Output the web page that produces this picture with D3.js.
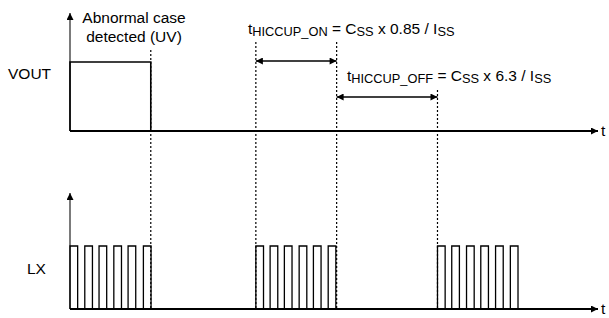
<!DOCTYPE html>
<html>
<head>
<meta charset="utf-8">
<script src="https://cdn.jsdelivr.net/npm/d3@7"></script>
<style>
  body { margin: 0; background: #fff; }
  text { font-family: "Liberation Sans", Arial, sans-serif; fill: #000; }
</style>
</head>
<body>
<div class="vis-timing"></div>
<script>
// time in arbitrary units, 0 = start of plot
const timeDomain = [0, 100];
const voutHigh = [0, 15.3];               // VOUT high until abnormal case detected
const lxRise = [
  0, 2.8, 5.5, 8.3, 11.0, 13.9,
  35.2, 37.9, 40.6, 43.4, 46.1, 48.9,
  69.6, 72.3, 75.1, 77.8, 80.6, 83.4
];
const lxPulseWidth = 1.45;
const markers = [15.3, 35.2, 50.5, 69.6];
const hiccupOn = [35.2, 50.5];
const hiccupOff = [50.5, 69.6];
const signalNames = ["VOUT", "LX"];

const draw = () => {
  const width = 609, height = 318;
  const svg = d3.select(".vis-timing")
    .append("svg")
    .attr("width", width)
    .attr("height", height);

  const defs = svg.append("defs");
  defs.append("marker")
    .attr("id", "arr")
    .attr("viewBox", "0 0 10 10")
    .attr("refX", 10).attr("refY", 5)
    .attr("markerUnits", "userSpaceOnUse")
    .attr("markerWidth", 9).attr("markerHeight", 7)
    .attr("orient", "auto-start-reverse")
    .append("path").attr("d", "M0,0L10,5L0,10z").attr("fill", "#000");

  const x = d3.scaleLinear().domain(timeDomain).range([70, 598]);
  const yV = d3.scaleLinear().domain([0, 1]).range([131, 62]);
  const yL = d3.scaleLinear().domain([0, 1]).range([309, 246]);

  // dotted event markers
  const markerTop = [50, 42, 42, 90];
  svg.selectAll(".marker")
    .data(markers)
    .enter()
    .append("line")
    .attr("class", "marker")
    .attr("x1", d => x(d)).attr("x2", d => x(d))
    .attr("y1", (d, i) => markerTop[i]).attr("y2", yL(0))
    .attr("stroke", "#000")
    .attr("stroke-width", 1.2)
    .attr("stroke-dasharray", "2,2");

  // axes (vertical + time arrows)
  [[yV, 13], [yL, 193]].forEach(([y, top]) => {
    svg.append("line")
      .attr("x1", x(0)).attr("x2", x(0))
      .attr("y1", y(0)).attr("y2", top)
      .attr("stroke", "#333").attr("stroke-width", 1.3)
      .attr("marker-end", "url(#arr)");
    svg.append("line")
      .attr("x1", x(0)).attr("x2", x(timeDomain[1]))
      .attr("y1", y(0)).attr("y2", y(0))
      .attr("stroke", "#000").attr("stroke-width", 2)
      .attr("marker-end", "url(#arr)");
    svg.append("text")
      .attr("x", x(timeDomain[1]) + 3)
      .attr("y", y(0) + 5)
      .style("font-size", "15.5px")
      .text("t");
  });

  // VOUT waveform
  const vp = d3.path();
  vp.moveTo(x(voutHigh[0]), yV(0));
  vp.lineTo(x(voutHigh[0]), yV(1));
  vp.lineTo(x(voutHigh[1]), yV(1));
  vp.lineTo(x(voutHigh[1]), yV(0));
  svg.append("path")
    .attr("d", vp.toString())
    .attr("fill", "none")
    .attr("stroke", "#000")
    .attr("stroke-width", 1.6);

  // LX pulses
  const lp = d3.path();
  lxRise.forEach(r => {
    lp.moveTo(x(r), yL(0));
    lp.lineTo(x(r), yL(1));
    lp.lineTo(x(r + lxPulseWidth), yL(1));
    lp.lineTo(x(r + lxPulseWidth), yL(0));
  });
  svg.append("path")
    .attr("d", lp.toString())
    .attr("fill", "none")
    .attr("stroke", "#000")
    .attr("stroke-width", 1.3);

  // signal labels
  svg.append("text").attr("x", 8).attr("y", 79)
    .style("font-size", "15.5px").text(signalNames[0]);
  svg.append("text").attr("x", 27).attr("y", 274)
    .style("font-size", "15.5px").text(signalNames[1]);

  // annotation
  svg.append("text").attr("x", 134).attr("y", 23)
    .attr("text-anchor", "middle")
    .style("font-size", "15.5px").text("Abnormal case");
  svg.append("text").attr("x", 134).attr("y", 42)
    .attr("text-anchor", "middle")
    .style("font-size", "15.5px").text("detected (UV)");

  // hiccup dimension arrows
  [[hiccupOn, 61], [hiccupOff, 97]].forEach(([d, yy]) => {
    svg.append("line")
      .attr("x1", x(d[0])).attr("x2", x(d[1]))
      .attr("y1", yy).attr("y2", yy)
      .attr("stroke", "#000").attr("stroke-width", 1.5)
      .attr("marker-start", "url(#arr)")
      .attr("marker-end", "url(#arr)");
  });

  // formulas with subscripts
  const formula = (xx, yy, parts) => {
    const t = svg.append("text").attr("x", xx).attr("y", yy)
      .style("font-size", "15.5px");
    parts.forEach(([s, sub]) => {
      t.append("tspan")
        .style("font-size", sub ? "12.8px" : "15.5px")
        .attr("dy", sub ? 2 : -2)
        .text(s);
    });
    t.select("tspan").attr("dy", 0);
  };
  formula(248, 33.5, [["t", 0], ["HICCUP_ON", 1], [" = C", 0], ["SS", 1], [" x 0.85 / I", 0], ["SS", 1]]);
  formula(347, 81, [["t", 0], ["HICCUP_OFF", 1], [" = C", 0], ["SS", 1], [" x 6.3 / I", 0], ["SS", 1]]);
};

draw();
</script>
</body>
</html>
